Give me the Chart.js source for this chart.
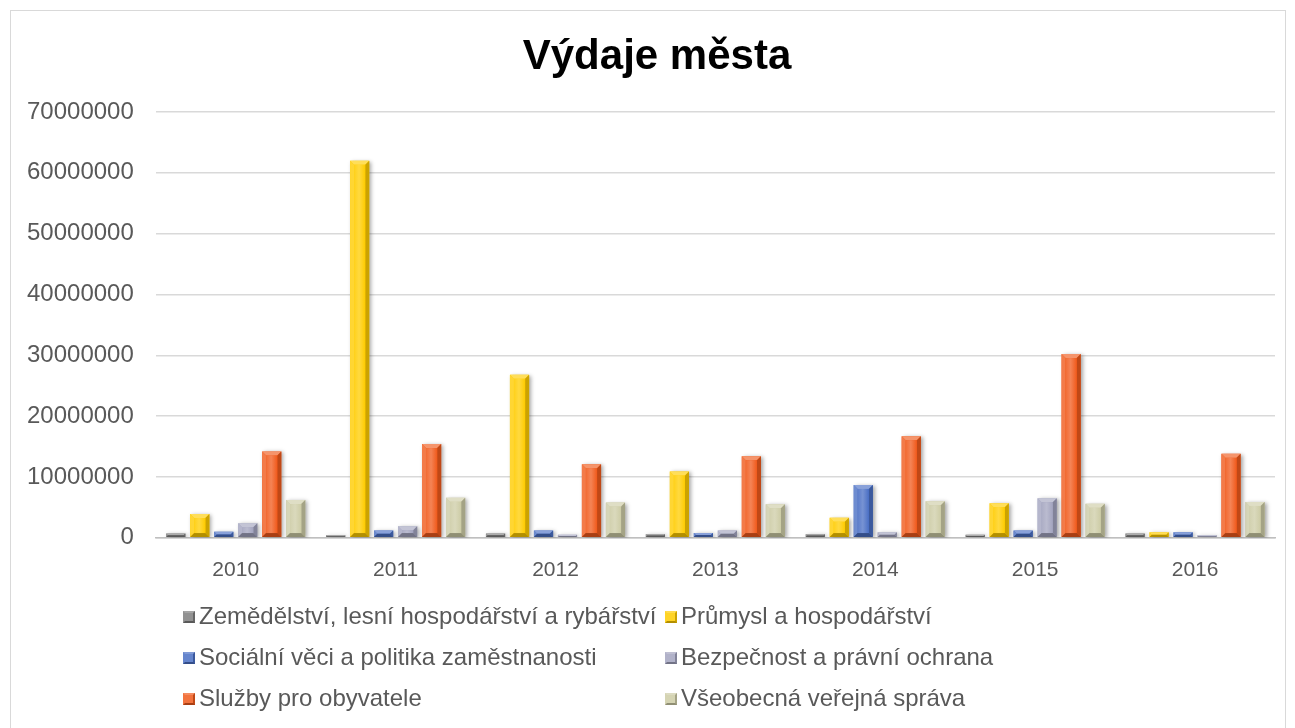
<!DOCTYPE html>
<html>
<head>
<meta charset="utf-8">
<script src="https://cdn.jsdelivr.net/npm/chart.js@4"></script>
<style>
  body { margin: 0; background: #fff; font-family: "Liberation Sans", Arial, sans-serif; }
  #wrap { position: relative; width: 1295px; height: 728px; overflow: hidden; }
  #frame { position: absolute; left: 10px; top: 10px; width: 1274px; height: 740px; border: 1px solid #d9d9d9; }
  #chart { position: absolute; left: 0; top: 0; }
  #title { position: absolute; left: 657px; top: 34px; transform: translateX(-50%); font-size: 42px; line-height: 42px;
           font-weight: bold; color: #000; white-space: nowrap; }
  .li { position: absolute; font-size: 24px; color: #595959; white-space: nowrap; line-height: 24px; }
  .sw { display: inline-block; width: 12px; height: 12px; margin-right: 4px; vertical-align: 1px; box-sizing: border-box;
        border-style: solid; border-width: 2px; }
</style>
</head>
<body>
<div id="wrap">
  <div id="frame"></div>
  <canvas id="chart" width="1295" height="728"></canvas>
  <div id="title">Výdaje města</div>
  <div id="legend"></div>
</div>
<script>
const years = ["2010", "2011", "2012", "2013", "2014", "2015", "2016"];
const seriesNames = [
  "Zemědělství, lesní hospodářství a rybářství",
  "Průmysl a hospodářství",
  "Sociální věci a politika zaměstnanosti",
  "Bezpečnost a právní ochrana",
  "Služby pro obyvatele",
  "Všeobecná veřejná správa",
];
const zemedelstvi = [700000, 400000, 700000, 600000, 600000, 500000, 700000];
const prumysl     = [3900000, 62000000, 26800000, 10900000, 3300000, 5700000, 900000];
const socialni    = [1000000, 1200000, 1200000, 800000, 8700000, 1200000, 900000];
const bezpecnost  = [2400000, 1900000, 500000, 1200000, 900000, 6500000, 400000];
const sluzby      = [14200000, 15400000, 12100000, 13400000, 16700000, 30200000, 13800000];
const sprava      = [6200000, 6600000, 5800000, 5500000, 6000000, 5600000, 5900000];
const yTicks = [0, 10000000, 20000000, 30000000, 40000000, 50000000, 60000000, 70000000];

const COLORS = ["#7f7f7f", "#ffcc00", "#4a6fc4", "#a3a4bf", "#f05a1c", "#cdcca6"];

function shade(hex, amt) {
  const n = parseInt(hex.slice(1), 16);
  let r = (n >> 16) & 255, g = (n >> 8) & 255, b = n & 255;
  const f = (c) => Math.max(0, Math.min(255, Math.round(amt < 0 ? c * (1 + amt) : c + (255 - c) * amt)));
  return "rgb(" + f(r) + "," + f(g) + "," + f(b) + ")";
}

// drop shadow + bevel look like the Excel bars
const bevelPlugin = {
  id: "bevel",
  beforeDatasetDraw(chart) {
    const ctx = chart.ctx;
    ctx.save();
    ctx.shadowColor = "rgba(0,0,0,0.35)";
    ctx.shadowBlur = 4;
    ctx.shadowOffsetX = 2;
    ctx.shadowOffsetY = 1;
  },
  afterDatasetDraw(chart, args) {
    const ctx = chart.ctx;
    ctx.restore();
    const color = COLORS[args.index];
    args.meta.data.forEach((bar) => {
      const x0 = bar.x - bar.width / 2, x1 = bar.x + bar.width / 2;
      const top = bar.y, bot = bar.base;
      const h = bot - top;
      const e = Math.min(4, h / 2, bar.width / 4);
      if (h < 1) return;
      ctx.save();
      // top bevel
      ctx.fillStyle = shade(color, 0.35);
      ctx.beginPath();
      ctx.moveTo(x0, top); ctx.lineTo(x1, top); ctx.lineTo(x1 - e, top + e); ctx.lineTo(x0 + e, top + e);
      ctx.fill();
      // left bevel
      ctx.fillStyle = shade(color, 0.2);
      ctx.beginPath();
      ctx.moveTo(x0, top); ctx.lineTo(x0 + e, top + e); ctx.lineTo(x0 + e, bot - e); ctx.lineTo(x0, bot);
      ctx.fill();
      // right bevel
      ctx.fillStyle = shade(color, -0.2);
      ctx.beginPath();
      ctx.moveTo(x1, top); ctx.lineTo(x1 - e, top + e); ctx.lineTo(x1 - e, bot - e); ctx.lineTo(x1, bot);
      ctx.fill();
      // bottom bevel
      ctx.fillStyle = shade(color, -0.3);
      ctx.beginPath();
      ctx.moveTo(x0, bot); ctx.lineTo(x0 + e, bot - e); ctx.lineTo(x1 - e, bot - e); ctx.lineTo(x1, bot);
      ctx.fill();
      // face highlight
      if (h > 2 * e + 2) {
        const g = ctx.createLinearGradient(x0 + e, 0, x1 - e, 0);
        g.addColorStop(0, shade(color, 0.1));
        g.addColorStop(0.45, shade(color, 0.25));
        g.addColorStop(1, color);
        ctx.fillStyle = g;
        ctx.fillRect(x0 + e, top + e, bar.width - 2 * e, h - 2 * e);
      }
      ctx.restore();
    });
  },
};

const allSeries = [zemedelstvi, prumysl, socialni, bezpecnost, sluzby, sprava];

const chart = new Chart(document.getElementById("chart"), {
  type: "bar",
  data: {
    labels: years,
    datasets: allSeries.map((data, i) => ({
      label: seriesNames[i],
      data,
      backgroundColor: COLORS[i],
      borderWidth: 0,
      categoryPercentage: 0.9,
      barPercentage: 0.8,
    })),
  },
  plugins: [bevelPlugin],
  options: {
    responsive: false,
    animation: false,
    layout: { padding: { left: 5, right: 20, top: 112, bottom: 133 } },
    plugins: {
      legend: { display: false },
      tooltip: { enabled: false },
      title: { display: false },
    },
    scales: {
      x: {
        grid: { display: false },
        border: { display: true, color: "#bfbfbf", width: 1.5 },
        ticks: { color: "#595959", font: { family: "Liberation Sans", size: 21 }, padding: 12 },
      },
      y: {
        min: 0,
        max: 70000000,
        afterBuildTicks: (axis) => { axis.ticks = yTicks.map((v) => ({ value: v })); },
        grid: { color: "#d9d9d9", lineWidth: 1.5, drawTicks: false },
        border: { display: false },
        ticks: { color: "#595959", font: { family: "Liberation Sans", size: 24 }, padding: 22,
                 callback: (v) => String(v) },
      },
    },
  },
});

// two-column legend like the original
const legendPos = [[183, 604], [665, 604], [183, 645], [665, 645], [183, 686], [665, 686]];
const legend = document.getElementById("legend");
seriesNames.forEach((name, i) => {
  const d = document.createElement("div");
  d.className = "li";
  d.style.left = legendPos[i][0] + "px";
  d.style.top = legendPos[i][1] + "px";
  const c = COLORS[i];
  d.innerHTML = '<span class="sw" style="background:' + shade(c, 0.15) + ';border-color:' +
    shade(c, 0.3) + ' ' + shade(c, -0.2) + ' ' + shade(c, -0.3) + ' ' + shade(c, 0.15) + '"></span>' + name;
  legend.appendChild(d);
});
</script>
</body>
</html>
